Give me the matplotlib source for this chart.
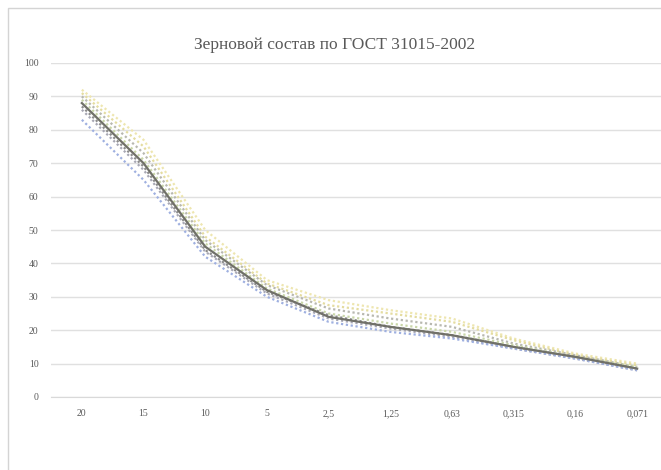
import numpy as np
import matplotlib
matplotlib.use('Agg')
import matplotlib.pyplot as plt
from matplotlib.patches import Rectangle

# sieve sizes, mm
sieves = ['20', '15', '10', '5', '2,5', '1,25', '0,63', '0,315', '0,16', '0,071']

# passing, % (one row per sample)
main_curve = [88, 70, 45, 32, 24, 21, 18.5, 15, 12, 8.5]
sample_1 = [92, 77, 50, 35, 29, 26, 23.5, 17.5, 13, 10]
sample_2 = [91, 75, 48, 34, 27.5, 25, 22.5, 17, 12.5, 9.5]
sample_3 = [90, 73, 47, 33.5, 26.5, 23.5, 21, 16, 12.5, 9]
sample_4 = [89, 71, 46, 32.5, 25, 22, 19.5, 15.5, 12, 9]
sample_5 = [87, 69, 44, 31.5, 24.5, 21, 18.5, 15, 12, 8.5]
sample_6 = [86, 68, 43.5, 31, 23.5, 20.5, 18, 14.5, 11.5, 8]
sample_7 = [83, 65, 42, 30, 22.5, 19.5, 17.5, 14.5, 11.5, 8]

dotted = [
    (sample_1, '#eee6b0'),
    (sample_2, '#e4dca0'),
    (sample_3, '#b8b8b0'),
    (sample_4, '#c9d6a8'),
    (sample_5, '#8c8c8c'),
    (sample_6, '#a8a8b4'),
    (sample_7, '#9fb0e0'),
]

serif = ['Liberation Serif', 'DejaVu Serif']

fig = plt.figure(figsize=(6.61, 4.70), dpi=100)
# chart frame
fig.patches.append(Rectangle((8 / 661, -0.1), 1.1, 1 - 8 / 470 + 0.1,
                             transform=fig.transFigure, fill=False,
                             edgecolor='#d4d4d4', linewidth=1.0))

ax = fig.add_axes([51 / 661, 1 - 397 / 470, 617 / 661, 334 / 470])
x = np.arange(len(sieves))

for vals, col in dotted:
    ax.plot(x, vals, color=col, linewidth=1.6, linestyle=(0, (1, 1.2)))
ax.plot(x, main_curve, color='#707068', linewidth=1.6)

ax.set_xlim(-0.5, len(sieves) - 0.5)
ax.set_ylim(0, 100)
ax.set_yticks(np.arange(0, 101, 10))
ax.set_xticks(x)
ax.set_xticklabels(sieves)
ax.grid(axis='y', color='#e0e0e0', linewidth=1.0)
ax.set_axisbelow(True)
for side in ['top', 'right', 'left']:
    ax.spines[side].set_visible(False)
ax.spines['bottom'].set_color('#d9d9d9')
ax.tick_params(length=0, labelsize=7, colors='#595959', pad=9)
for lab in ax.get_xticklabels() + ax.get_yticklabels():
    lab.set_family(serif)

fig.text(335 / 661, 1 - 45 / 470, 'Зерновой состав по ГОСТ 31015-2002',
         ha='center', va='center', fontsize=12.5, color='#595959', family=serif)

fig.savefig('out.png', dpi=100)
